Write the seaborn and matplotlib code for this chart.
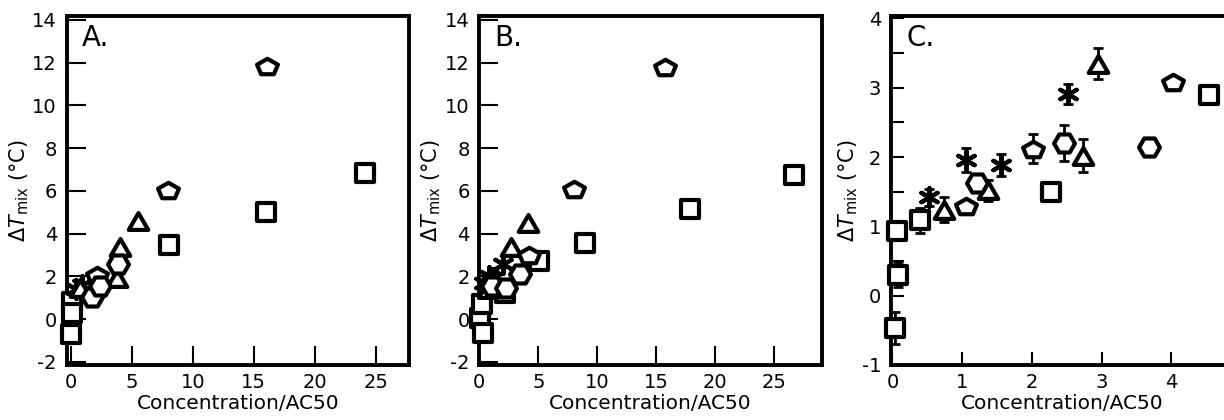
import numpy as np
import matplotlib
matplotlib.use("Agg")
import matplotlib.pyplot as plt
from matplotlib.path import Path
import seaborn as sns

# ---------------- data ----------------
# Panel A
a_sq_x = [0.08, 0.10, 0.02, 8.06, 16.0, 24.1]
a_sq_y = [0.79, 0.30, -0.68, 3.49, 5.00, 6.84]
a_ast_x = [0.45, 0.90]
a_ast_y = [1.40, 1.60]
a_tri_x = [0.75, 3.80, 4.05, 5.55]
a_tri_y = [1.45, 1.90, 3.38, 4.58]
a_pent_x = [2.15, 7.95, 16.07]
a_pent_y = [2.08, 6.05, 11.85]
a_hex_x = [1.72, 2.40, 3.85]
a_hex_y = [1.03, 1.57, 2.59]

# Panel B
b_sq_x = [0.03, 0.23, 0.31, 2.16, 5.10, 8.97, 17.88, 26.68]
b_sq_y = [0.05, 0.72, -0.63, 1.20, 2.70, 3.54, 5.16, 6.74]
b_ast_x = [0.40, 0.80, 1.20, 2.00]
b_ast_y = [1.70, 2.00, 1.90, 2.60]
b_tri_x = [0.70, 1.50, 2.68, 4.10]
b_tri_y = [1.40, 1.60, 3.35, 4.50]
b_pent_x = [4.20, 8.01, 15.74]
b_pent_y = [2.99, 6.07, 11.78]
b_hex_x = [1.10, 2.28, 3.41]
b_hex_y = [1.55, 1.46, 2.13]

# Panel C (with error bars)
c_sq_x = [0.06, 0.08, 0.04, 0.39, 2.28, 4.54]
c_sq_y = [0.94, 0.30, -0.46, 1.09, 1.50, 2.89]
c_sq_e = [0.05, 0.18, 0.23, 0.18, 0.05, 0.05]
c_ast_x = [0.52, 1.05, 1.56, 2.52]
c_ast_y = [1.42, 1.96, 1.88, 2.91]
c_ast_e = [0.12, 0.17, 0.16, 0.15]
c_tri_x = [0.74, 1.37, 2.74, 2.95]
c_tri_y = [1.24, 1.52, 2.02, 3.35]
c_tri_e = [0.18, 0.15, 0.24, 0.22]
c_pent_x = [1.06, 2.02, 4.02]
c_pent_y = [1.30, 2.12, 3.08]
c_pent_e = [0.05, 0.21, 0.05]
c_hex_x = [1.22, 2.46, 3.68]
c_hex_y = [1.62, 2.20, 2.14]
c_hex_e = [0.05, 0.26, 0.05]

panel_labels = ["A.", "B.", "C."]
xlabel = "Concentration/AC50"
ylabel = r"$\Delta T_{\mathrm{mix}}$ (°C)"

# ---------------- marker shapes ----------------
def closed_marker(verts):
    v = np.asarray(verts, float)
    c = (v.max(axis=0) + v.min(axis=0)) / 2
    v = v - c
    v = np.vstack([v, v[:1]])
    codes = [Path.MOVETO] + [Path.LINETO] * (len(v) - 2) + [Path.CLOSEPOLY]
    return Path(v, codes)

ang5 = np.deg2rad(90 + 72 * np.arange(5))
pent = closed_marker(np.c_[np.cos(ang5), 0.78 * np.sin(ang5)])
ang3 = np.deg2rad(90 + 120 * np.arange(3))
tri = closed_marker(np.c_[np.cos(ang3), np.sin(ang3)])
ang6 = np.deg2rad(60 * np.arange(6))
hexa = closed_marker(np.c_[np.cos(ang6), np.sin(ang6)])
ast = (6, 2, 0)

MEW = 3.0
SIZES = {"sq": 12.3, "ast": 13.5, "tri": 14.0, "pent": 15.0, "hex": 15.0}
MARKERS = {"sq": "s", "ast": ast, "tri": tri, "pent": pent, "hex": hexa}

sns.set_style("white")
plt.rcParams["font.family"] = ["DejaVu Sans"]
plt.rcParams["mathtext.fontset"] = "dejavusans"
plt.rcParams["axes.unicode_minus"] = False
plt.rcParams["text.color"] = "black"
plt.rcParams["axes.labelcolor"] = "black"
plt.rcParams["xtick.color"] = "black"
plt.rcParams["ytick.color"] = "black"

fig = plt.figure(figsize=(12.24, 4.2), dpi=100)
W, H = 1224, 420
bottom = (420 - 365) / H
height = (365 - 15.7) / H
width = 342.3 / W
axA = fig.add_axes([66.7 / W, bottom, width, height])
axB = fig.add_axes([479.3 / W, bottom, width, height])
axC = fig.add_axes([891.0 / W, bottom, width, height])


def draw(ax, groups):
    order = ["sq", "ast", "tri", "pent", "hex"]
    for z, key in enumerate(order):
        if key not in groups:
            continue
        xs, ys = groups[key]
        m = MARKERS[key]
        s = SIZES[key] ** 2
        if key == "ast":
            sns.scatterplot(x=xs, y=ys, marker=m, s=s, color="black",
                            linewidth=MEW, ax=ax, zorder=3 + z, clip_on=False)
        else:
            sns.scatterplot(x=xs, y=ys, marker=m, s=s, color="white",
                            edgecolor="black", linewidth=MEW, ax=ax,
                            zorder=3 + z, clip_on=False)


draw(axA, {"sq": (a_sq_x, a_sq_y), "ast": (a_ast_x, a_ast_y),
           "tri": (a_tri_x, a_tri_y), "pent": (a_pent_x, a_pent_y),
           "hex": (a_hex_x, a_hex_y)})
draw(axB, {"sq": (b_sq_x, b_sq_y), "ast": (b_ast_x, b_ast_y),
           "tri": (b_tri_x, b_tri_y), "pent": (b_pent_x, b_pent_y),
           "hex": (b_hex_x, b_hex_y)})

for xs, ys, es in [(c_sq_x, c_sq_y, c_sq_e), (c_ast_x, c_ast_y, c_ast_e),
                   (c_tri_x, c_tri_y, c_tri_e), (c_pent_x, c_pent_y, c_pent_e),
                   (c_hex_x, c_hex_y, c_hex_e)]:
    axC.errorbar(xs, ys, yerr=es, fmt="none", ecolor="black", elinewidth=2.0,
                 capsize=3.5, capthick=2.0, zorder=2)
draw(axC, {"sq": (c_sq_x, c_sq_y), "ast": (c_ast_x, c_ast_y),
           "tri": (c_tri_x, c_tri_y), "pent": (c_pent_x, c_pent_y),
           "hex": (c_hex_x, c_hex_y)})

axA.set_xlim(-0.33, 27.73)
axB.set_xlim(0.0, 29.0)
axC.set_xlim(-0.02, 4.89)
for ax in (axA, axB):
    ax.set_ylim(-2.15, 14.2)
    ax.set_yticks(np.arange(-2, 15, 2))
    ax.set_xticks(np.arange(0, 26, 5))
    ax.tick_params(length=13.7)
axC.set_ylim(-1.0, 4.04)
axC.set_yticks(np.arange(-1, 5, 1))
axC.set_yticks(np.arange(-0.5, 4, 1.0), minor=True)
axC.set_xticks(np.arange(0, 5, 1))
axC.tick_params(which="both", length=9.4)

for ax, lab in zip((axA, axB, axC), panel_labels):
    ax.tick_params(which="both", direction="in", width=1.5, labelsize=14,
                   bottom=True, left=True, top=False, right=False, colors="black")
    ax.tick_params(axis="y", pad=7)
    ax.tick_params(axis="x", pad=6)
    ax.set_xlabel(xlabel, fontsize=14.5, labelpad=1, color="black")
    ax.set_ylabel(ylabel, fontsize=15, labelpad=1, color="black")
    for sp in ax.spines.values():
        sp.set_linewidth(2.8)
        sp.set_color("black")
        sp.set_visible(True)
    ax.grid(False)
    ax.text(0.045, 0.975, lab, transform=ax.transAxes, ha="left", va="top",
            fontsize=20, color="black")
    if ax.get_legend() is not None:
        ax.get_legend().remove()

fig.savefig("out.png", dpi=100)
